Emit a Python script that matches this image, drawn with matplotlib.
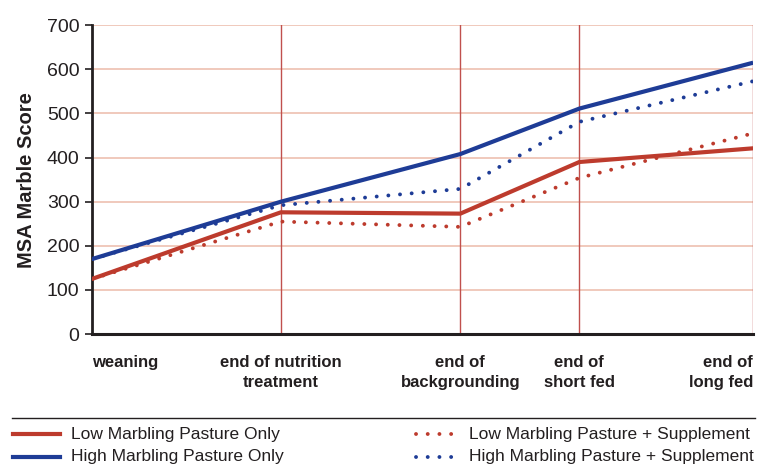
import matplotlib
matplotlib.use("Agg")
import matplotlib.pyplot as plt
from matplotlib.lines import Line2D

plt.rcParams['font.family'] = ['Liberation Sans', 'DejaVu Sans']

# stage positions along the time axis (approx. months after weaning)
stage_x = [0, 10, 19.5, 25.8, 35]
stage_labels = ["weaning", "end of nutrition\ntreatment", "end of\nbackgrounding",
                "end of\nshort fed", "end of\nlong fed"]

low_pasture = [125, 276, 273, 390, 421]
high_pasture = [170, 300, 408, 511, 615]
low_supp = [125, 255, 243, 354, 455]
high_supp = [170, 292, 329, 481, 573]

red = "#BD3B2D"
blue = "#1E3C96"
grid_col = "#EDC0B0"
vline_col = "#C0504D"
txt = "#231F20"
dots = (0, (0.01, 3.0))

fig = plt.figure(figsize=(7.6, 4.66), dpi=100)
ax = fig.add_axes([0.121, 0.283, 0.870, 0.663])

for y in range(100, 701, 100):
    ax.axhline(y, color=grid_col, lw=1.2, zorder=1)
for x in stage_x[1:]:
    ax.axvline(x, color=vline_col, lw=1.0, zorder=1)

ax.plot(stage_x, low_pasture, color=red, lw=3, solid_capstyle='butt', zorder=3)
ax.plot(stage_x, high_pasture, color=blue, lw=3, solid_capstyle='butt', zorder=3)
ax.plot(stage_x, low_supp, color=red, lw=2.8, ls=dots, dash_capstyle='round', zorder=3)
ax.plot(stage_x, high_supp, color=blue, lw=2.8, ls=dots, dash_capstyle='round', zorder=3)

ax.set_xlim(stage_x[0], stage_x[-1])
ax.set_ylim(0, 700)
ax.set_yticks(range(0, 701, 100))
ax.tick_params(axis='y', length=5, width=1.2, color=txt, labelsize=14,
               labelcolor=txt, pad=4)
ax.set_xticks([])
for s in ['top', 'right']:
    ax.spines[s].set_visible(False)
ax.spines['left'].set_linewidth(2)
ax.spines['left'].set_color(txt)
ax.spines['bottom'].set_linewidth(2.2)
ax.spines['bottom'].set_color(txt)

ax.set_ylabel("MSA Marble Score", fontsize=14.5, fontweight='bold', color=txt,
              labelpad=8)

# stage labels under the axis
aligns = ['left', 'center', 'center', 'center', 'right']
for x, lab, ha in zip(stage_x, stage_labels, aligns):
    ax.annotate(lab, xy=(x, 0), xycoords='data', xytext=(0, -15),
                textcoords='offset points', ha=ha, va='top', fontsize=12,
                fontweight='bold', color=txt, linespacing=1.4)

# separator line above legend
fig.add_artist(Line2D([12 / 760, 755 / 760], [1 - 418 / 466, 1 - 418 / 466],
                      color=txt, lw=1.0))

def legend_entry(x0, y, color, label, dotted, tx):
    yy = 1 - y / 466
    if dotted:
        fig.add_artist(Line2D([x0 / 760, (x0 + 40) / 760], [yy, yy], color=color,
                              lw=2.8, ls=dots, dash_capstyle='round'))
    else:
        fig.add_artist(Line2D([x0 / 760, (x0 + 47) / 760], [yy, yy], color=color,
                              lw=3))
    fig.text(tx / 760, yy, label, fontsize=12.5, color=txt, va='center')

legend_entry(13, 434, red, "Low Marbling Pasture Only", False, 71)
legend_entry(13, 457, blue, "High Marbling Pasture Only", False, 71)
legend_entry(416, 434, red, "Low Marbling Pasture + Supplement", True, 469)
legend_entry(416, 457, blue, "High Marbling Pasture + Supplement", True, 469)

fig.savefig("out.png", dpi=100)
